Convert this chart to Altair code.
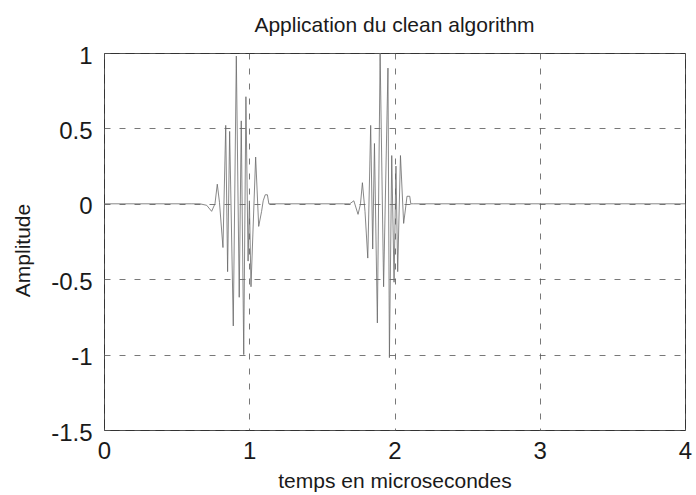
import altair as alt
import pandas as pd

# First echo (time in microseconds, amplitude)
echo1_t = [0.600, 0.660, 0.707, 0.741, 0.764, 0.780, 0.795, 0.819, 0.838, 0.851,
           0.865, 0.890, 0.911, 0.931, 0.945, 0.962, 0.977, 0.992, 1.001, 1.012,
           1.044, 1.065, 1.085, 1.096, 1.110, 1.125, 1.135, 1.150]
echo1_a = [0.00, 0.00, -0.01, -0.05, 0.00, 0.13, 0.01, -0.29, 0.52, -0.45,
           0.48, -0.81, 0.98, -0.62, 0.55, -1.00, 0.71, -0.38, 0.02, -0.55,
           0.31, -0.15, -0.05, 0.02, 0.06, 0.06, 0.00, 0.00]

# Second echo
echo2_t = [1.650, 1.692, 1.720, 1.749, 1.766, 1.779, 1.797, 1.816, 1.836, 1.850,
           1.862, 1.882, 1.901, 1.925, 1.955, 1.965, 1.981, 1.997, 2.010, 2.022,
           2.041, 2.063, 2.080, 2.086, 2.105, 2.112, 2.130]
echo2_a = [0.00, 0.00, 0.02, -0.07, 0.00, 0.14, -0.05, -0.36, 0.52, -0.30,
           0.40, -0.79, 1.00, -0.55, 0.90, -1.02, 0.32, -0.52, 0.25, -0.45,
           0.32, -0.13, 0.00, 0.05, 0.05, 0.00, 0.00]

x_ticks = [0, 1, 2, 3, 4]
y_ticks = [-1.5, -1, -0.5, 0, 0.5, 1]

t = [0.0] + echo1_t + echo2_t + [4.0]
amp = [0.0] + echo1_a + echo2_a + [0.0]
df = pd.DataFrame({"t": t, "amp": amp})

FONT = "Liberation Sans"
GRID = "#555555"

chart = (
    alt.Chart(df)
    .mark_line(color="#6a6a6a", strokeWidth=0.8, clip=True)
    .encode(
        x=alt.X(
            "t:Q",
            scale=alt.Scale(domain=[0, 4], nice=False, zero=False),
            axis=alt.Axis(
                values=x_ticks,
                format="d",
                title="temps en microsecondes",
                grid=True,
                gridDash=[6, 9],
                gridColor=GRID,
                gridWidth=0.8,
                domain=False,
                ticks=False,
                tickSize=0,
                labelPadding=9,
                labelBaseline="top",
                labelFontSize=24,
                labelFont=FONT,
                labelColor="#1a1a1a",
                labelFlush=False,
                titleFont=FONT,
                titleFontSize=21,
                titleFontWeight="normal",
                titleColor="#1a1a1a",
                titleBaseline="alphabetic",
                titleY=57,
            ),
        ),
        y=alt.Y(
            "amp:Q",
            scale=alt.Scale(domain=[-1.5, 1], nice=False, zero=False),
            axis=alt.Axis(
                values=y_ticks,
                labelExpr="datum.value < 0 ? '-' + format(-datum.value, '~g') : format(datum.value, '~g')",
                title="Amplitude",
                grid=True,
                gridDash=[6, 9],
                gridColor=GRID,
                gridWidth=0.8,
                domain=False,
                ticks=False,
                tickSize=0,
                labelPadding=12,
                labelOffset=3,
                labelFontSize=24,
                labelFont=FONT,
                labelColor="#1a1a1a",
                labelFlush=False,
                titleFont=FONT,
                titleFontSize=21,
                titleFontWeight="normal",
                titleColor="#1a1a1a",
                titleBaseline="middle",
                titleX=-81,
                titleY=197,
            ),
        ),
    )
    .properties(
        width=581,
        height=377,
        title=alt.Title(
            "Application du clean algorithm",
            font=FONT,
            fontSize=21,
            fontWeight="normal",
            color="#1a1a1a",
            baseline="alphabetic",
            offset=21,
            dy=30,
            anchor="middle",
            frame="group",
        ),
        padding={"left": 104, "top": 53, "right": 11, "bottom": 65},
        autosize=alt.AutoSizeParams(type="none"),
        background="white",
    )
    .configure_view(stroke="#333333", strokeWidth=1)
)

chart.save("out.html", embed_options={"renderer": "svg", "actions": False})
